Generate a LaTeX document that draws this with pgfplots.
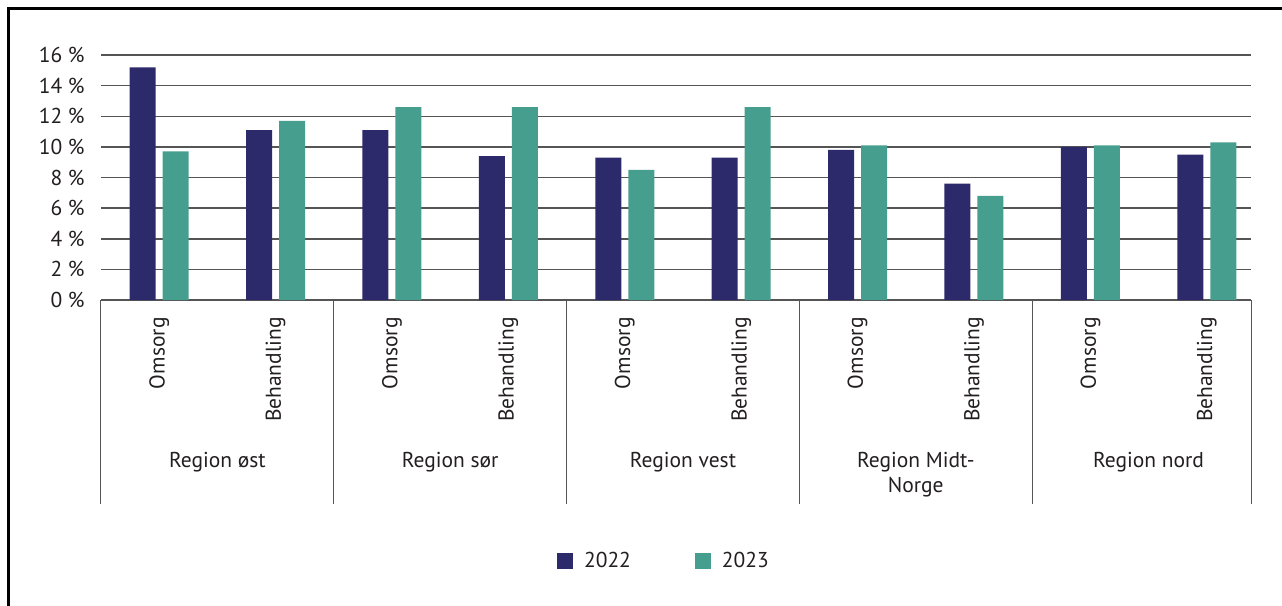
\documentclass[border=0pt]{standalone}
\usepackage{fontspec}
\setmainfont{PT Sans}
\usepackage{pgfplots}
\pgfplotsset{compat=1.18}
\definecolor{navy}{RGB}{44,42,107}
\definecolor{teal}{RGB}{70,158,142}
\definecolor{txt}{RGB}{35,31,32}
\definecolor{gridc}{RGB}{85,85,85}
\begin{document}
\begin{tikzpicture}[font=\fontsize{10.75}{12.5}\selectfont, every node/.style={text=txt}]
\useasboundingbox (-50pt,-153pt) rectangle (591pt,150pt);
\draw[line width=1.5pt, black] (-45.75pt,-153pt) -- (-45.75pt,145.75pt) -- (591pt,145.75pt);
\begin{axis}[
  at={(0.5pt,0)}, anchor=south west,
  scale only axis, width=575pt, height=122.5pt,
  xmin=-0.5, xmax=9.38, ymin=0, ymax=16,
  enlarge x limits=false,
  axis line style={draw=none},
  ymajorgrids, grid style={gridc, line width=0.75pt},
  major tick length=0pt,
  ytick={0,2,...,16},
  yticklabel={\pgfmathprintnumber{\tick}\ \%},
  /pgf/number format/assume math mode=true,
  yticklabel style={inner sep=0pt, xshift=-8pt},
  xtick={0,...,9},
  xticklabels={Omsorg,Behandling,Omsorg,Behandling,Omsorg,Behandling,Omsorg,Behandling,Omsorg,Behandling},
  xticklabel style={rotate=90, anchor=east, inner sep=0pt},
  xticklabel shift={8.5pt},
  ybar=3.5pt, bar width=13pt,
  clip=false,
  legend columns=2,
  legend style={at={(0.4904,0)}, anchor=center, yshift=-130.5pt, draw=none, fill=none,
    /tikz/every even column/.append style={column sep=30pt},
    /tikz/every odd column/.append style={column sep=3.5pt},
    font=\fontsize{10.75}{12.5}\selectfont},
  legend cell align=left,
  legend image code/.code={\fill[#1] (0pt,-4pt) rectangle (8pt,4pt);},
]
\addplot[fill=navy, draw=none] coordinates {(0,15.2) (1,11.1) (2,11.1) (3,9.4) (4,9.3) (5,9.3) (6,9.8) (7,7.6) (8,10.0) (9,9.5)};
\addplot[fill=teal, draw=none] coordinates {(0,9.7) (1,11.7) (2,12.6) (3,12.6) (4,8.5) (5,12.6) (6,10.1) (7,6.8) (8,10.1) (9,10.3)};
\legend{2022,2023}
\foreach \xx in {-0.5,1.5,3.5,5.5,7.5,9.38} {
  \edef\temp{\noexpand\draw[gridc, line width=0.5pt] (axis cs:\xx,0) -- ++(0pt,-102pt);}
  \temp
}
\node at ([yshift=-81pt]axis cs:0.5,0) {Region øst};
\node at ([yshift=-81pt]axis cs:2.5,0) {Region sør};
\node at ([yshift=-81pt]axis cs:4.5,0) {Region vest};
\node[align=center] at ([yshift=-87.25pt]axis cs:6.5,0) {Region Midt-\\Norge};
\node at ([yshift=-81pt]axis cs:8.5,0) {Region nord};
\end{axis}
\end{tikzpicture}
\end{document}
